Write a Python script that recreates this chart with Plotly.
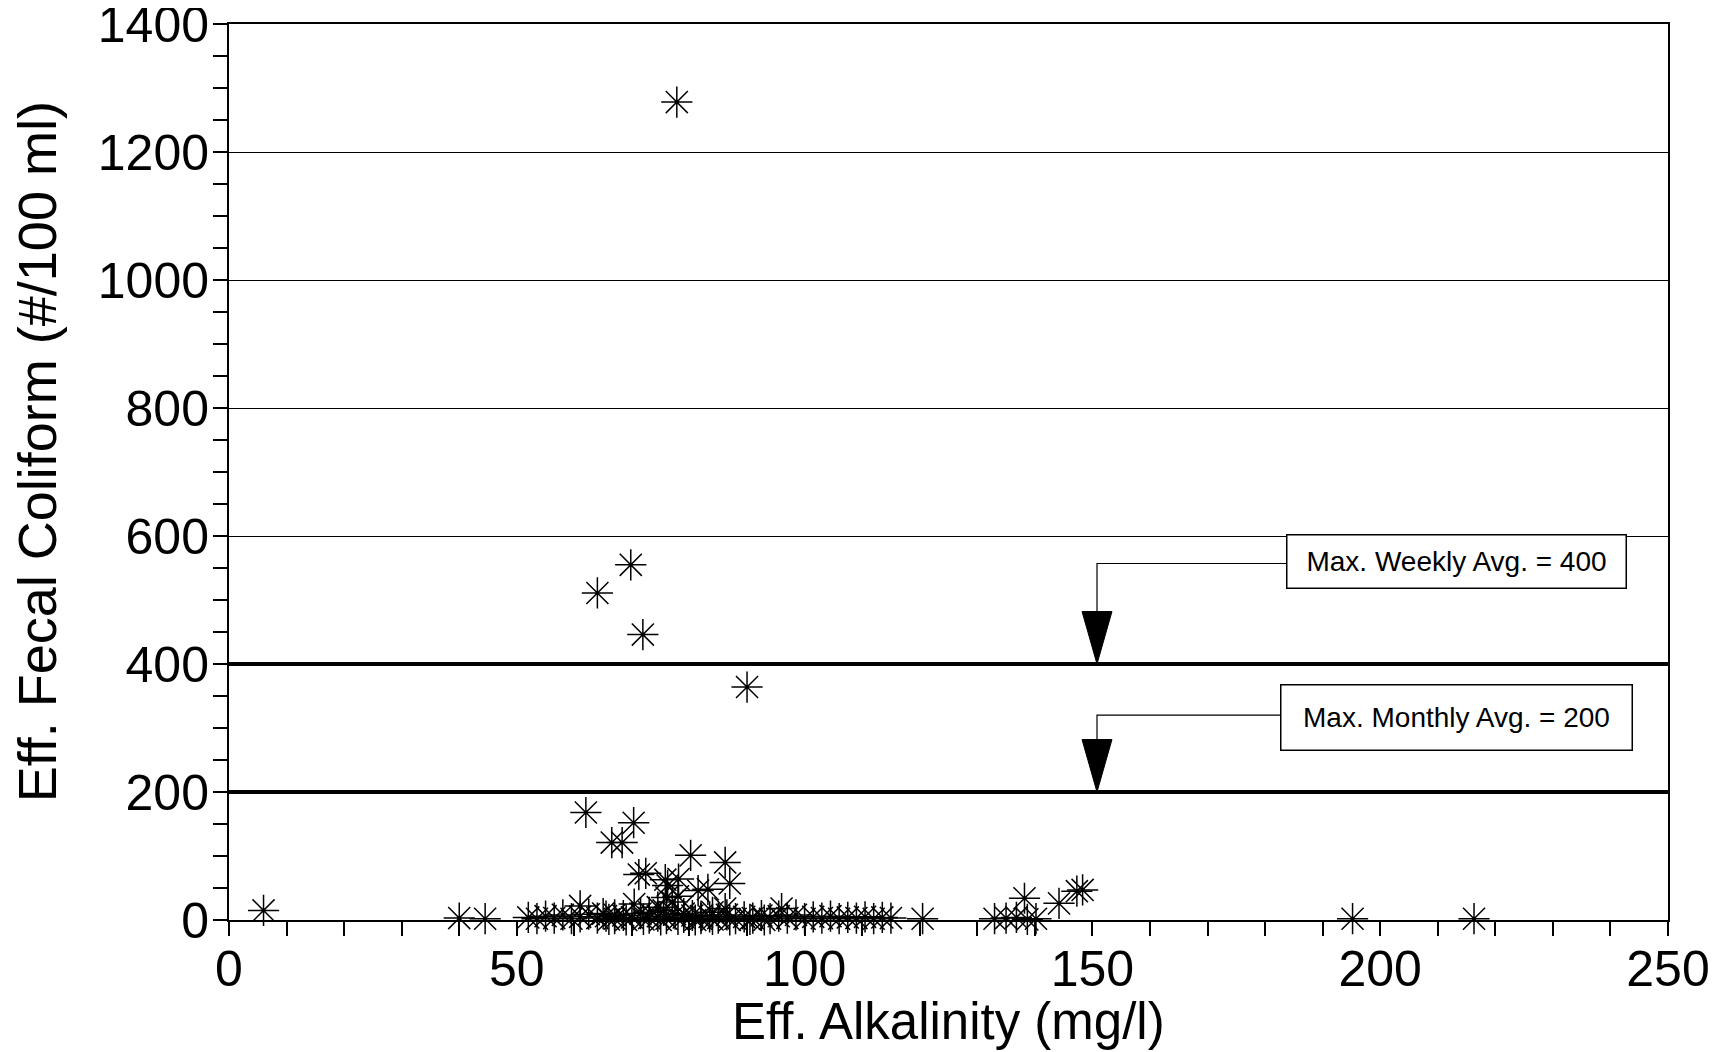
import plotly.graph_objects as go

# Eff. alkalinity (mg/l) vs eff. fecal coliform (#/100 ml)
alkalinity = [
    6.0, 40.0, 44.5,
    77.8,
    69.8, 64.0, 71.9, 90.0,
    62.0, 70.3, 66.5, 68.3,
    80.2, 86.2, 71.2, 72.4,
    78.1, 76.2, 87.0, 81.5, 83.2, 75.8,
    76.0, 78.0, 61.0, 70.4, 86.2, 96.0,
    65.0, 67.0, 73.0, 74.5, 75.5, 79.0, 82.0, 84.0, 77.0,
    52.0, 53.5, 55.0, 56.5, 58.0, 59.5, 61.0, 62.5, 64.0, 65.5,
    67.0, 68.5, 70.0, 71.5, 73.0, 74.5, 76.0, 77.5, 79.0, 80.5,
    82.0, 83.5, 85.0, 86.5, 88.0, 89.5, 91.0, 92.5, 94.0, 95.5,
    97.0, 98.5, 100.0, 101.5, 103.0, 104.5, 106.0, 107.5, 109.0, 110.5,
    112.0, 113.5, 115.0,
    66.0, 69.0, 72.0, 75.0, 78.0, 81.0, 84.0, 87.0, 90.5, 93.0,
    120.5,
    133.0, 135.0, 136.8, 138.7, 140.2,
    138.2, 144.2, 147.3, 148.3,
    195.2, 216.3,
]
fecal_coliform = [
    15, 3, 2,
    1278,
    555, 511, 446, 364,
    168, 152, 121, 121,
    101, 90, 71, 73,
    64, 54, 57, 46, 48, 63,
    35, 37, 22, 25, 18, 18,
    10, 8, 12, 20, 15, 10, 6, 12, 28,
    4, 2, 6, 3, 8, 2, 5, 9, 3, 6,
    2, 7, 4, 10, 3, 6, 2, 9, 4, 7,
    2, 5, 3, 8, 2, 5, 3, 7, 2, 6,
    3, 8, 2, 5, 3, 6, 2, 4, 3, 5,
    2, 4, 3,
    1, 0, 1, 0, 1, 0, 1, 0, 1, 0,
    2,
    2, 3, 4, 1, 2,
    34, 26, 45, 47,
    2, 2,
]

weekly_limit = 400
monthly_limit = 200
weekly_label = "Max. Weekly Avg. = 400"
monthly_label = "Max. Monthly Avg. = 200"
x_title = "Eff. Alkalinity (mg/l)"
y_title = "Eff. Fecal Coliform (#/100 ml)"

FONT = "Liberation Sans, Arial, Helvetica, sans-serif"

fig = go.Figure()
fig.add_trace(go.Scatter(
    x=alkalinity, y=fecal_coliform, mode="markers", showlegend=False,
    cliponaxis=False,
    marker=dict(symbol="asterisk-open", size=26, color="black",
                line=dict(color="black", width=1.5)),
))

shapes = []
# heavy limit lines
for lim in (weekly_limit, monthly_limit):
    shapes.append(dict(type="line", xref="paper", x0=0, x1=1, yref="y", y0=lim, y1=lim,
                       line=dict(color="black", width=4), layer="above"))

# callout connectors + arrow heads
arrow_x = 150.8
for lim, conn_y, box_x in ((weekly_limit, 557, 194.0), (monthly_limit, 320, 192.8)):
    shapes.append(dict(type="path", xref="x", yref="y",
                       path=f"M {box_x},{conn_y} L {arrow_x},{conn_y} L {arrow_x},{lim + 80}",
                       line=dict(color="black", width=1.2)))
    shapes.append(dict(type="path", xref="x", yref="y",
                       path=f"M {arrow_x - 2.6},{lim + 82} L {arrow_x + 2.6},{lim + 82} L {arrow_x},{lim} Z",
                       fillcolor="black", line=dict(color="black", width=1)))

annotations = [
    dict(x=213.3, y=560, xref="x", yref="y", text=weekly_label, showarrow=False,
         font=dict(family=FONT, size=28, color="black"), bgcolor="white",
         bordercolor="black", borderwidth=1.5, borderpad=8, width=322, height=36),
    dict(x=213.2, y=316, xref="x", yref="y", text=monthly_label, showarrow=False,
         font=dict(family=FONT, size=28, color="black"), bgcolor="white",
         bordercolor="black", borderwidth=1.5, borderpad=8, width=334, height=48),
    # axis titles
    dict(x=0.5, y=-0.113, xref="paper", yref="paper", text=x_title, showarrow=False,
         xanchor="center", yanchor="middle", font=dict(family=FONT, size=51, color="black")),
    dict(x=-0.1334, y=0.522, xref="paper", yref="paper", text=y_title, showarrow=False,
         textangle=-90, xanchor="center", yanchor="middle",
         font=dict(family=FONT, size=54, color="black")),
]

fig.update_layout(
    width=1724, height=1052,
    margin=dict(l=221, r=64, t=16, b=140, autoexpand=False),
    paper_bgcolor="white", plot_bgcolor="white",
    font=dict(family=FONT, color="black"),
    shapes=shapes, annotations=annotations,
)
fig.update_xaxes(
    range=[0, 250], dtick=50, tick0=0, automargin=False,
    showline=True, mirror=True, linecolor="black", linewidth=2,
    ticks="outside", ticklen=14, tickwidth=2, tickcolor="black",
    minor=dict(dtick=10, ticks="outside", ticklen=14, tickwidth=2, tickcolor="black"),
    showgrid=False, zeroline=False,
    tickfont=dict(size=50), ticklabelstandoff=-10, ticklabeloverflow="allow",
)
fig.update_yaxes(
    range=[0, 1400], dtick=200, tick0=0, automargin=False,
    showline=True, mirror=True, linecolor="black", linewidth=2,
    ticks="outside", ticklen=14, tickwidth=2, tickcolor="black",
    minor=dict(dtick=50, ticks="outside", ticklen=14, tickwidth=2, tickcolor="black"),
    showgrid=True, gridcolor="black", gridwidth=1, zeroline=False,
    tickfont=dict(size=50), ticklabelstandoff=-6, ticklabeloverflow="allow",
)

fig.write_html("out.html")
